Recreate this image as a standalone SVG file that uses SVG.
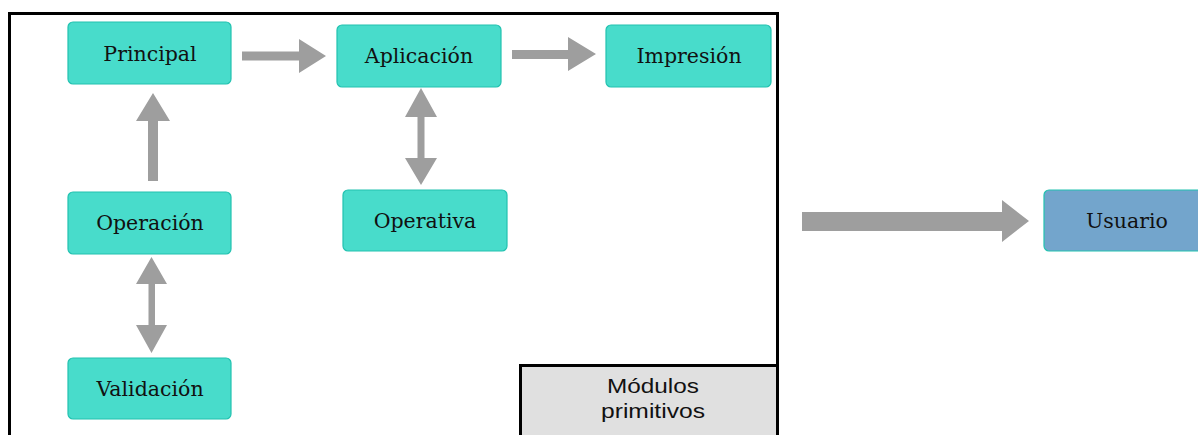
<svg xmlns="http://www.w3.org/2000/svg" width="1198" height="435" viewBox="0 0 1198 435">
<style>
.node{fill:#48dccb;stroke:#22c2b0;stroke-width:1.2}
.user{fill:#73a5cc;stroke:#22c2b0;stroke-width:1.2}
.lbl{font-family:"DejaVu Serif","Liberation Serif",serif;font-size:20.5px;fill:#111;text-anchor:middle}
.arrow{fill:#9e9e9e}
.sans{font-family:"Liberation Sans",Arial,sans-serif;font-size:21px;fill:#111;text-anchor:middle}
</style>
<rect width="1198" height="435" fill="#fff"/>
<g id="frame">
<rect x="9.5" y="13.5" width="768" height="440" fill="#fff" stroke="#000" stroke-width="3"/>
</g>
<g id="modulos">
<rect x="520.5" y="365.5" width="257" height="90" fill="#e0e0e0" stroke="#000" stroke-width="3"/>
<text class="sans" x="653" y="393" textLength="92" lengthAdjust="spacingAndGlyphs">Módulos</text>
<text class="sans" x="653" y="418" textLength="104" lengthAdjust="spacingAndGlyphs">primitivos</text>
</g>
<g id="connectors">
<polygon class="arrow" points="242,51.5 299,51.5 299,39 326,56 299,73 299,60.5 242,60.5"/>
<polygon class="arrow" points="512,50 568,50 568,37 596,54 568,71 568,59 512,59"/>
<polygon class="arrow" points="148,181 148,121 136,121 153,93 170,121 158,121 158,181"/>
<polygon class="arrow" points="148.5,284 136,284 151.5,257 167,284 155,284 155,325 167,325 151.5,353 136,325 148.5,325"/>
<polygon class="arrow" points="417.5,117 405,117 421,88 437,117 424.5,117 424.5,158 437,158 421,185 405,158 417.5,158"/>
<polygon class="arrow" points="802,212 1002,212 1002,200 1029,221 1002,242 1002,231 802,231"/>
</g>
<g id="principal">
<rect class="node" x="68" y="22" width="163" height="62" rx="5"/>
<text class="lbl" x="150" y="61">Principal</text>
</g>
<g id="aplicacion">
<rect class="node" x="337" y="25" width="164" height="62" rx="5"/>
<text class="lbl" x="419" y="63">Aplicación</text>
</g>
<g id="impresion">
<rect class="node" x="606" y="25" width="165" height="62" rx="5"/>
<text class="lbl" x="689" y="63">Impresión</text>
</g>
<g id="operacion">
<rect class="node" x="68" y="192" width="163" height="62" rx="5"/>
<text class="lbl" x="150" y="230">Operación</text>
</g>
<g id="validacion">
<rect class="node" x="68" y="358" width="163" height="61" rx="5"/>
<text class="lbl" x="150" y="396">Validación</text>
</g>
<g id="operativa">
<rect class="node" x="343" y="190" width="164" height="61" rx="5"/>
<text class="lbl" x="425" y="228">Operativa</text>
</g>
<g id="usuario">
<rect class="user" x="1044" y="190" width="164" height="61" rx="5"/>
<text class="lbl" x="1127" y="228">Usuario</text>
</g>
</svg>
